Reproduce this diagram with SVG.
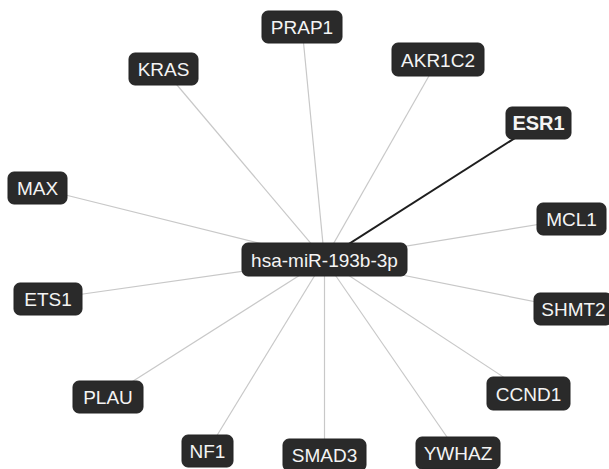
<svg xmlns="http://www.w3.org/2000/svg" width="609" height="469" viewBox="0 0 609 469">
<style>
.e{stroke:#c8c8c8;stroke-width:1.2;fill:none}
.hl{stroke:#1e1e1e;stroke-width:2;fill:none}
.n rect{fill:#2a2a2a;stroke:#222;stroke-width:1}
.n text{fill:#f4f4f4;font-family:"Liberation Sans",Arial,sans-serif;font-size:19px;text-anchor:middle}
.b text{font-weight:bold;font-size:20px}
</style>
<rect width="609" height="469" fill="#ffffff"/>
<g id="edges">
<line class="e" x1="302" y1="27" x2="324.5" y2="259.5"/>
<line class="e" x1="438" y1="60" x2="324.5" y2="259.5"/>
<line class="e" x1="163.5" y1="69" x2="324.5" y2="259.5"/>
<line class="e" x1="37.5" y1="188" x2="324.5" y2="259.5"/>
<line class="e" x1="48" y1="299" x2="324.5" y2="259.5"/>
<line class="e" x1="571.5" y1="219" x2="324.5" y2="259.5"/>
<line class="e" x1="571.5" y1="309" x2="324.5" y2="259.5"/>
<line class="e" x1="528.5" y1="393.5" x2="324.5" y2="259.5"/>
<line class="e" x1="108" y1="397" x2="324.5" y2="259.5"/>
<line class="e" x1="207.5" y1="451" x2="324.5" y2="259.5"/>
<line class="e" x1="324.5" y1="455" x2="324.5" y2="259.5"/>
<line class="e" x1="458" y1="453" x2="324.5" y2="259.5"/>
<line class="hl" x1="538.5" y1="123" x2="324.5" y2="259.5"/>
</g>
<g id="n-center" class="n"><rect x="242" y="243" width="165" height="33" rx="6"/><text x="324.5" y="266.5">hsa-miR-193b-3p</text></g>
<g id="n-ESR1" class="n b"><rect x="506" y="107" width="65" height="32" rx="6"/><text x="538.5" y="130">ESR1</text></g>
<g id="n-PRAP1" class="n"><rect x="262" y="11" width="80" height="32" rx="6"/><text x="302" y="34">PRAP1</text></g>
<g id="n-AKR1C2" class="n"><rect x="392" y="43" width="92" height="33" rx="6"/><text x="438" y="67">AKR1C2</text></g>
<g id="n-KRAS" class="n"><rect x="129" y="53" width="69" height="32" rx="6"/><text x="163.5" y="76">KRAS</text></g>
<g id="n-MAX" class="n"><rect x="8" y="172" width="59" height="32" rx="6"/><text x="37.5" y="195">MAX</text></g>
<g id="n-ETS1" class="n"><rect x="14" y="283" width="68" height="32" rx="6"/><text x="48" y="306">ETS1</text></g>
<g id="n-MCL1" class="n"><rect x="537" y="203" width="69" height="32" rx="6"/><text x="571.5" y="226">MCL1</text></g>
<g id="n-SHMT2" class="n"><rect x="534" y="293" width="78" height="32" rx="6"/><text x="573.5" y="316">SHMT2</text></g>
<g id="n-CCND1" class="n"><rect x="487" y="377" width="83" height="33" rx="6"/><text x="528.5" y="401">CCND1</text></g>
<g id="n-PLAU" class="n"><rect x="73" y="381" width="70" height="32" rx="6"/><text x="108" y="404">PLAU</text></g>
<g id="n-NF1" class="n"><rect x="182" y="435" width="51" height="32" rx="6"/><text x="207.5" y="458">NF1</text></g>
<g id="n-SMAD3" class="n"><rect x="283" y="439" width="83" height="32" rx="6"/><text x="324.5" y="462">SMAD3</text></g>
<g id="n-YWHAZ" class="n"><rect x="416" y="437" width="84" height="32" rx="6"/><text x="458" y="460">YWHAZ</text></g>
</svg>
